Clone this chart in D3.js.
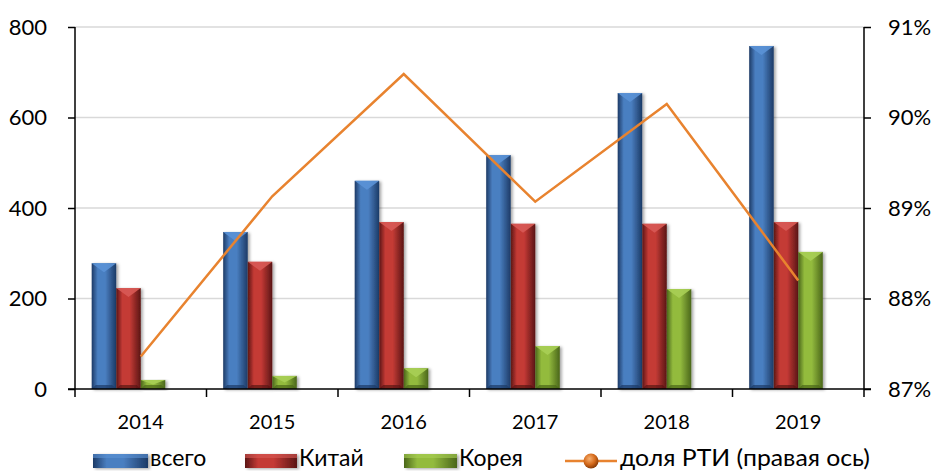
<!DOCTYPE html>
<html>
<head>
<meta charset="utf-8">
<script src="https://cdn.jsdelivr.net/npm/d3@7"></script>
<style>
  body { margin: 0; background: #fff; }
  svg { font-family: Lato, "Open Sans", sans-serif; }
</style>
</head>
<body>
<svg id="chart" width="938" height="471"></svg>
<script>
// data
const years = ['2014', '2015', '2016', '2017', '2018', '2019'];
const seriesNames = ['всего', 'Китай', 'Корея'];
const total = [278, 347, 460, 517, 654, 758];
const china = [223, 281, 369, 365, 365, 369];
const korea = [20, 29, 46, 95, 221, 303];
const share = [87.36, 89.13, 90.48, 89.07, 90.15, 88.2];
const leftTicks = [0, 200, 400, 600, 800];
const rightTicks = [87, 88, 89, 90, 91];
const lineName = 'доля РТИ (правая ось)';

const colors = {
  'всего': { edge: '#1c3a66', mid: '#4a7fc1', top: '#5b92d6' },
  'Китай': { edge: '#5a1515', mid: '#c43a35', top: '#d85a55' },
  'Корея': { edge: '#4a661a', mid: '#93bb3e', top: '#a9cf55' }
};
const lineColor = '#e8832f';

const plotL = 75, plotR = 864, plotT = 27, plotB = 389;

const svg = d3.select('#chart');
const defs = svg.append('defs');

seriesNames.forEach((s, i) => {
  const g = defs.append('linearGradient')
    .attr('id', 'grad' + i)
    .attr('x1', '0%').attr('x2', '100%').attr('y1', '0%').attr('y2', '0%');
  g.append('stop').attr('offset', '0%').attr('stop-color', colors[s].edge);
  g.append('stop').attr('offset', '25%').attr('stop-color', colors[s].mid);
  g.append('stop').attr('offset', '55%').attr('stop-color', colors[s].mid);
  g.append('stop').attr('offset', '100%').attr('stop-color', colors[s].edge);
});

const ball = defs.append('radialGradient').attr('id', 'ball')
  .attr('cx', '40%').attr('cy', '35%').attr('r', '65%');
ball.append('stop').attr('offset', '0%').attr('stop-color', '#f7b071');
ball.append('stop').attr('offset', '60%').attr('stop-color', '#d4691a');
ball.append('stop').attr('offset', '100%').attr('stop-color', '#8a3c08');

const shadow = defs.append('filter').attr('id', 'shadow')
  .attr('x', '-20%').attr('y', '-10%').attr('width', '150%').attr('height', '130%');
shadow.append('feDropShadow').attr('dx', 2).attr('dy', 1).attr('stdDeviation', 1.5)
  .attr('flood-color', '#000').attr('flood-opacity', 0.35);

const x = d3.scaleBand().domain(years).range([plotL, plotR]);
const xs = d3.scaleBand().domain([...seriesNames, '']).range([0, x.bandwidth()])
  .paddingOuter(0.68).paddingInner(0);
const y = d3.scaleLinear().domain([0, 800]).range([plotB, plotT]);
const y2 = d3.scaleLinear().domain([87, 91]).range([plotB, plotT]);

// gridlines
svg.append('g')
  .selectAll('line')
  .data(leftTicks.slice(1))
  .enter()
  .append('line')
  .attr('x1', plotL).attr('x2', plotR)
  .attr('y1', d => y(d)).attr('y2', d => y(d))
  .attr('stroke', '#d9d9d9').attr('stroke-width', 1.5);

// bars
const values = [total, china, korea];
const bevel = 9;
seriesNames.forEach((s, i) => {
  const g = svg.append('g');
  const rows = years.map((yr, j) => ({ yr, v: values[i][j] }));
  const bw = xs.bandwidth();
  const sel = g.selectAll('.bar' + i)
    .data(rows)
    .enter()
    .append('g')
    .attr('filter', 'url(#shadow)');
  sel.append('rect')
    .attr('x', d => x(d.yr) + xs(s))
    .attr('y', d => y(d.v))
    .attr('width', bw)
    .attr('height', d => plotB - y(d.v))
    .attr('fill', 'url(#grad' + i + ')');
  // top bevel triangle
  sel.append('path')
    .attr('d', d => {
      const x0 = x(d.yr) + xs(s);
      const y0 = y(d.v);
      const b = Math.min(bevel, (plotB - y0) / 2);
      return `M${x0},${y0}L${x0 + bw},${y0}L${x0 + bw / 2},${y0 + b}Z`;
    })
    .attr('fill', colors[s].top)
    .attr('opacity', 0.9);
  // bottom darker bevel
  sel.append('path')
    .attr('d', d => {
      const x0 = x(d.yr) + xs(s);
      const b = Math.min(4, (plotB - y(d.v)) / 2);
      return `M${x0},${plotB}L${x0 + bw},${plotB}L${x0 + bw - 4},${plotB - b}L${x0 + 4},${plotB - b}Z`;
    })
    .attr('fill', colors[s].edge)
    .attr('opacity', 0.7);
});

// line
const line = d3.line()
  .x((d, j) => x(years[j]) + x.bandwidth() / 2)
  .y(d => y2(d));
svg.append('path')
  .datum(share)
  .attr('d', line)
  .attr('fill', 'none')
  .attr('stroke', lineColor)
  .attr('stroke-width', 2.5);

// axes
const yAxis = d3.axisLeft(y).tickValues(leftTicks).tickSize(7).tickPadding(21);
const gy = svg.append('g').attr('transform', `translate(${plotL},0)`).call(yAxis);
const y2Axis = d3.axisRight(y2).tickValues(rightTicks).tickSize(7).tickPadding(17)
  .tickFormat(d => d + '%');
const gy2 = svg.append('g').attr('transform', `translate(${plotR},0)`).call(y2Axis);
[gy, gy2].forEach(g => {
  g.select('.domain').attr('stroke', '#000').attr('stroke-width', 1.5)
    .attr('d', `M0,${plotT}V${plotB + 8}`);
  g.selectAll('.tick line').attr('stroke', '#000').attr('stroke-width', 1.5);
  g.selectAll('text').attr('font-size', 22).attr('fill', '#000')
    .attr('font-family', 'Lato, sans-serif');
});

const gx = svg.append('g').attr('transform', `translate(0,${plotB})`);
gx.append('line').attr('x1', plotL - 7).attr('x2', plotR + 7)
  .attr('stroke', '#000').attr('stroke-width', 1.5);
gx.selectAll('.sep')
  .data(years.slice(1))
  .enter()
  .append('line')
  .attr('x1', d => x(d)).attr('x2', d => x(d))
  .attr('y1', 0).attr('y2', 8)
  .attr('stroke', '#000').attr('stroke-width', 1.5);
gx.selectAll('.lbl')
  .data(years)
  .enter()
  .append('text')
  .attr('x', d => x(d) + x.bandwidth() / 2)
  .attr('y', 40)
  .attr('text-anchor', 'middle')
  .attr('font-size', 20)
  .text(d => d);

// legend
const legend = svg.append('g').attr('transform', 'translate(0,461)');
const legendItems = [
  { name: 'всего', x: 93, w: 55 },
  { name: 'Китай', x: 245, w: 52 },
  { name: 'Корея', x: 404, w: 53 }
];
legendItems.forEach((it, i) => {
  legend.append('rect')
    .attr('x', it.x).attr('y', -7).attr('width', it.w).attr('height', 14)
    .attr('fill', 'url(#grad' + i + ')')
    .attr('filter', 'url(#shadow)');
  legend.append('rect')
    .attr('x', it.x).attr('y', -7).attr('width', it.w).attr('height', 4)
    .attr('fill', colors[it.name].top).attr('opacity', 0.6);
  legend.append('text')
    .attr('x', it.x + it.w + 2).attr('y', 5)
    .attr('font-size', 23)
    .text(it.name);
});
legend.append('line')
  .attr('x1', 565).attr('x2', 617).attr('y1', 0).attr('y2', 0)
  .attr('stroke', lineColor).attr('stroke-width', 2.5);
legend.append('circle')
  .attr('cx', 591).attr('cy', 0).attr('r', 7.5)
  .attr('fill', 'url(#ball)');
legend.append('text')
  .attr('x', 620).attr('y', 5)
  .attr('font-size', 23)
  .attr('textLength', 250)
  .attr('lengthAdjust', 'spacingAndGlyphs')
  .text(lineName);
</script>
</body>
</html>
